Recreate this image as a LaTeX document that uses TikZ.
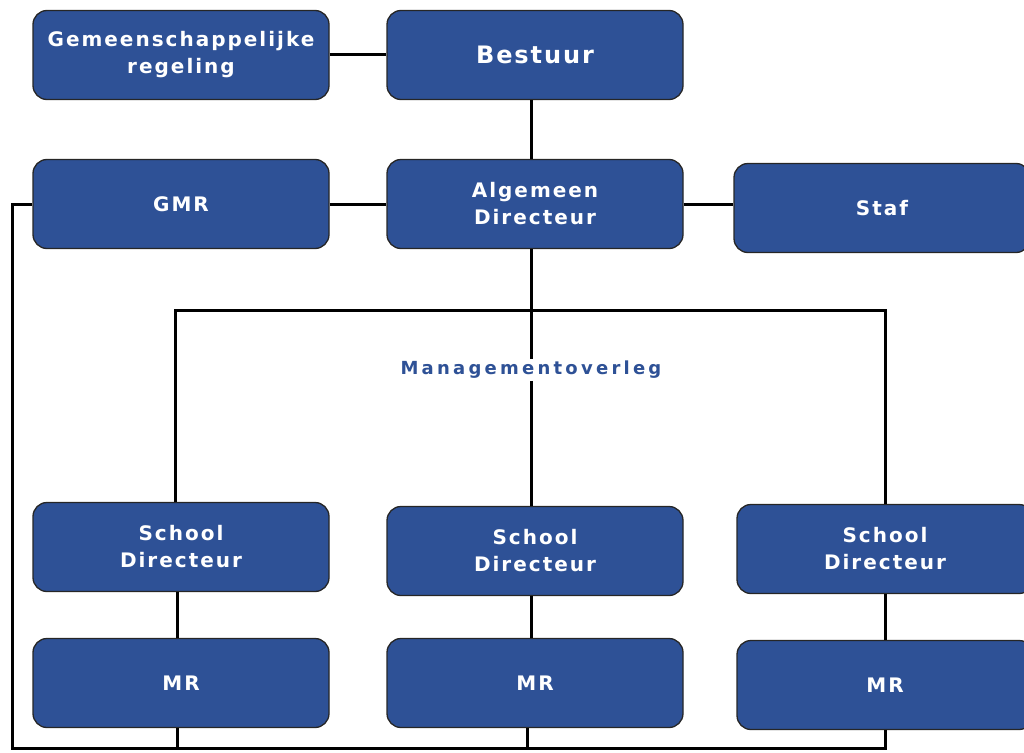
\documentclass[tikz,border=0pt]{standalone}
\usepackage{fontspec}
\setmainfont{DejaVu Sans}
\definecolor{blueBox}{RGB}{46,81,150}

\begin{document}
\begin{tikzpicture}[x=1pt, y=-1pt,
    connection/.style={draw=black,line width=3pt},
	unit/.style={rectangle,rounded corners=14pt,minimum width=296pt,minimum height=89pt,draw=black!85,fill=blueBox,line width=1.3pt,text=white,align=center,font=\bfseries\fontsize{20}{27}\selectfont\addfontfeatures{LetterSpace=10}},
	bigUnit/.style={unit,font=\bfseries\fontsize{24}{27}\selectfont\addfontfeatures{LetterSpace=8}},
	overleg/.style={inner sep=2pt,fill=white,text=blueBox,font=\bfseries\fontsize{18}{22}\selectfont\addfontfeatures{LetterSpace=18}},
]

	\useasboundingbox (0,0) rectangle (1024,752);

	\node[unit](gr) at(181,55){Gemeenschappelijke\\regeling};
	\node[bigUnit](bestuur) at(535,55){Bestuur};
	\node[unit](gmr) at(181,204){GMR};
	\node[unit](ad) at(535,204){Algemeen\\Directeur};
	\node[unit](staf) at(882,208){Staf};

	\node[overleg](mo) at(531,370){Managementoverleg};

	\node[unit](sd1) at(181,547){School\\Directeur};
	\node[unit](sd2) at(535,551){School\\Directeur};
	\node[unit](sd3) at(885,549){School\\Directeur};
	\node[unit](mr1) at(181,683){MR};
	\node[unit](mr2) at(535,683){MR};
	\node[unit](mr3) at(885,685){MR};

	\coordinate(bar) at(531,310);
	\coordinate(base) at(12,748);

	\draw[connection](gr)--(bestuur);
	\draw[connection]([xshift=-4pt]bestuur.south)--([xshift=-4pt]ad.north);
	\draw[connection](gmr)--(ad);
	\draw[connection](ad.east)--(ad.east -| staf.west);
	\draw[connection]([xshift=-4pt]ad.south)--(mo);
	\draw[connection](mo)--(mo |- sd2.north);
	\draw[connection]([xshift=-6pt]sd1.north)|-(bar)-|(sd3);
	\draw[connection]([xshift=-4pt]sd1.south)--([xshift=-4pt]mr1.north);
	\draw[connection]([xshift=-4pt]sd2.south)--([xshift=-4pt]mr2.north);
	\draw[connection](sd3)--(mr3);
	\draw[connection](gmr.west)-|(base)-|(mr3);
	\draw[connection]([xshift=-4pt]mr1.south)--([xshift=-4pt]mr1.south |- base);
	\draw[connection]([xshift=-8pt]mr2.south)--([xshift=-8pt]mr2.south |- base);

\end{tikzpicture}
\end{document}
